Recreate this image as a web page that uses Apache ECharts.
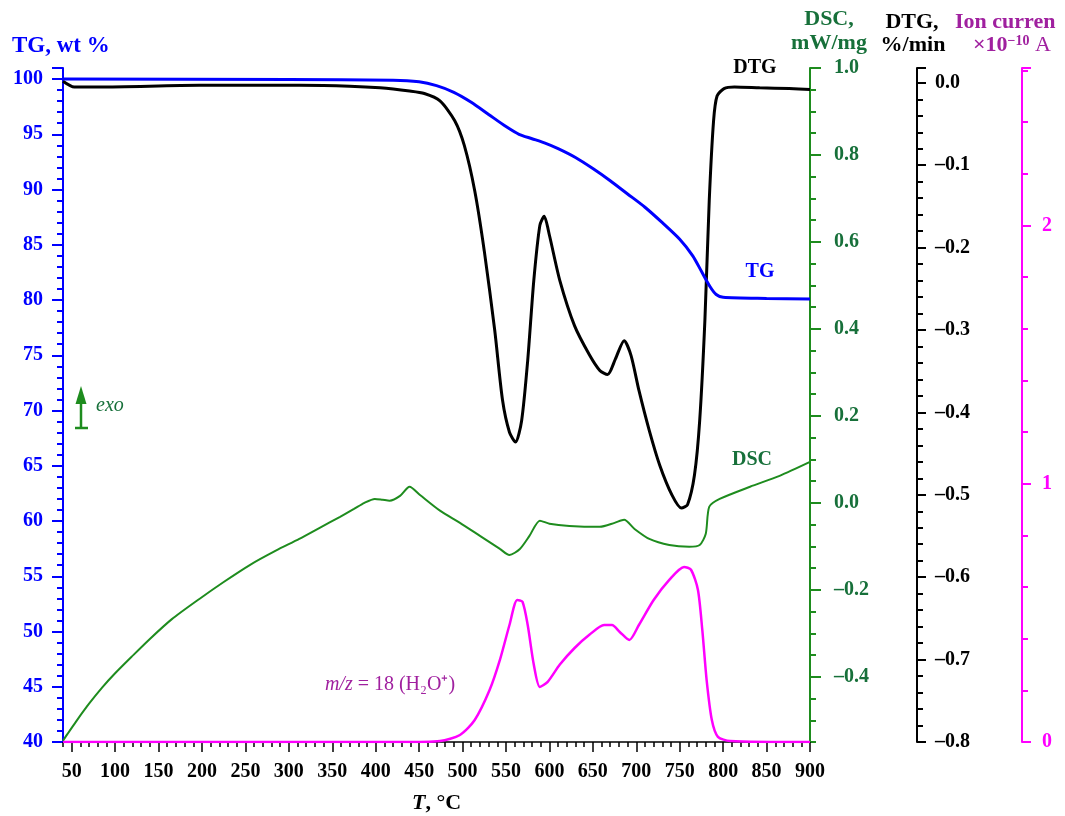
<!DOCTYPE html>
<html>
<head>
<meta charset="utf-8">
<script src="https://cdn.jsdelivr.net/npm/echarts@6/dist/echarts.min.js"></script>
<style>
html,body{margin:0;padding:0;background:#fff;}
#chart{width:1065px;height:816px;}
</style>
</head>
<body>
<div id="chart"></div>
<script>
// ---------- data ----------
const xTickLabels = [50,100,150,200,250,300,350,400,450,500,550,600,650,700,750,800,850,900];
const dscMajorTicks = [-0.4,-0.2,0.0,0.2,0.4,0.6,0.8,1.0];

const T_TG = [40,300,420,450,470,490,510,530,550,565,580,595,610,630,650,670,690,710,730,750,765,775,785,792,800,850,900];
const TG   = [100.0,99.95,99.9,99.75,99.4,98.8,97.9,96.8,95.7,95.0,94.6,94.2,93.7,92.9,91.9,90.8,89.6,88.4,87.0,85.5,84.0,82.6,81.2,80.5,80.25,80.15,80.1];

const T_DTG = [40,53,82,197,312,370,405,439,456,474,491,502,514,525,537,546,554,561,568,575,582,589,594,600,612,629,646,658,667,676,686,694,703,715,727,741,752,759,767,773,779,784,789,793,801,813,842,876,900];
const DTG   = [0.002,-0.005,-0.005,-0.003,-0.003,-0.004,-0.006,-0.010,-0.013,-0.022,-0.046,-0.076,-0.131,-0.204,-0.300,-0.385,-0.424,-0.436,-0.410,-0.337,-0.240,-0.173,-0.162,-0.185,-0.240,-0.295,-0.330,-0.349,-0.354,-0.335,-0.313,-0.331,-0.373,-0.422,-0.464,-0.500,-0.516,-0.512,-0.476,-0.410,-0.288,-0.143,-0.046,-0.016,-0.007,-0.005,-0.006,-0.007,-0.008];

const T_DSC = [40,45,55,70,85,100,120,140,165,197,225,255,285,312,335,359,375,387,399,408,416,428,439,451,474,497,520,543,554,566,577,589,600,623,658,675,686,698,715,738,761,773,780,784,796,831,865,900];
const DSC   = [-0.547,-0.532,-0.503,-0.462,-0.425,-0.392,-0.352,-0.313,-0.268,-0.221,-0.182,-0.143,-0.110,-0.083,-0.058,-0.032,-0.014,0.000,0.009,0.007,0.005,0.016,0.037,0.018,-0.018,-0.046,-0.076,-0.106,-0.120,-0.106,-0.076,-0.041,-0.048,-0.053,-0.055,-0.046,-0.039,-0.060,-0.083,-0.097,-0.101,-0.097,-0.071,-0.009,0.009,0.037,0.062,0.094];

const T_ION = [40,428,474,497,514,531,543,554,563,569,575,582,589,598,612,629,646,663,672,681,692,703,720,738,755,763,771,776,781,787,794,808,900];
const ION   = [0,0,0.004,0.027,0.085,0.200,0.318,0.453,0.550,0.543,0.453,0.300,0.213,0.233,0.300,0.364,0.415,0.453,0.453,0.426,0.395,0.453,0.550,0.628,0.678,0.667,0.589,0.434,0.240,0.085,0.020,0.004,0];

// ---------- styling ----------
const FONT = '"Liberation Serif", "Times New Roman", serif';
const BLUE = '#0000ff', GREEN = '#1e8c1e', GREEN_TXT = '#17703a', MAG = '#ff00ff', PURPLE = '#a0209f';
const dash = v => (v < 0 ? '\u2013' : '') + Math.abs(v).toFixed(1);
const pairs = (xs, ys) => xs.map((x, i) => [x, ys[i]]);

const chart = echarts.init(document.getElementById('chart'), null, {renderer: 'canvas'});

const lblStyle = (color) => ({color: color, fontFamily: FONT, fontWeight: 'bold', fontSize: 20});

const option = {
  animation: false,
  backgroundColor: '#fff',
  grid: {left: 63, right: 255, top: 68, bottom: 74, containLabel: false, outerBoundsMode: 'none'},
  xAxis: [
    {
      type: 'value', min: 40, max: 900, position: 'bottom',
      axisLine: {show: true, onZero: false, lineStyle: {color: '#000', width: 1.5}},
      axisTick: {show: true, customValues: xTickLabels, length: 10, lineStyle: {color: '#000', width: 1.5}},
      axisLabel: Object.assign({customValues: xTickLabels, margin: 20}, lblStyle('#000')),
      splitLine: {show: false},
      name: '{i|T}{n|, °C}', nameLocation: 'middle', nameGap: 50,
      nameTextStyle: {rich: {
        i: {fontFamily: FONT, fontWeight: 'bold', fontStyle: 'italic', fontSize: 22, color: '#000'},
        n: {fontFamily: FONT, fontWeight: 'bold', fontSize: 22, color: '#000'}
      }}
    },
    {
      type: 'value', min: 40, max: 900, interval: 10, position: 'bottom',
      axisLine: {show: false, onZero: false},
      axisTick: {show: true, length: 5, lineStyle: {color: '#000', width: 1.5}},
      axisLabel: {show: false}, splitLine: {show: false}
    }
  ],
  yAxis: [
    { // 0 TG
      type: 'value', min: 40, max: 101, interval: 5, position: 'left',
      axisLine: {show: true, onZero: false, lineStyle: {color: BLUE, width: 2}},
      axisTick: {show: true, length: 11, lineStyle: {color: BLUE, width: 2}},
      minorTick: {show: true, splitNumber: 5, length: 6, lineStyle: {color: BLUE, width: 2}},
      axisLabel: Object.assign({margin: 20, formatter: v => (v % 5 === 0 ? String(v) : '')}, lblStyle(BLUE)),
      splitLine: {show: false}, minorSplitLine: {show: false}
    },
    { // 1 DSC major
      type: 'value', min: -0.55, max: 1.0, position: 'right', offset: 0,
      axisLine: {show: true, onZero: false, lineStyle: {color: GREEN, width: 2}},
      axisTick: {show: true, customValues: dscMajorTicks, length: 11, lineStyle: {color: GREEN, width: 2}},
      axisLabel: Object.assign({customValues: dscMajorTicks, margin: 24, formatter: dash}, lblStyle(GREEN_TXT)),
      splitLine: {show: false}
    },
    { // 2 DSC minor
      type: 'value', min: -0.55, max: 1.0, interval: 0.05, position: 'right', offset: 0,
      axisLine: {show: false, onZero: false},
      axisTick: {show: true, length: 6, lineStyle: {color: GREEN, width: 2}},
      axisLabel: {show: false}, splitLine: {show: false}
    },
    { // 3 DTG
      type: 'value', min: -0.8, max: 0.018, interval: 0.1, position: 'right', offset: 107,
      axisLine: {show: true, onZero: false, lineStyle: {color: '#000', width: 2}},
      axisTick: {show: true, length: 9, lineStyle: {color: '#000', width: 2}},
      minorTick: {show: true, splitNumber: 5, length: 6, lineStyle: {color: '#000', width: 2}},
      axisLabel: Object.assign({margin: 18, formatter: v => (v > 0.001 ? '' : dash(v))}, lblStyle('#000')),
      splitLine: {show: false}, minorSplitLine: {show: false}
    },
    { // 4 Ion current
      type: 'value', min: 0, max: 2.61, interval: 1, position: 'right', offset: 212,
      axisLine: {show: true, onZero: false, lineStyle: {color: MAG, width: 2}},
      axisTick: {show: true, length: 9, lineStyle: {color: MAG, width: 2}},
      minorTick: {show: true, splitNumber: 5, length: 6, lineStyle: {color: MAG, width: 2}},
      axisLabel: Object.assign({margin: 20, formatter: v => (Math.abs(v - Math.round(v)) < 1e-6 ? String(Math.round(v)) : '')}, lblStyle(MAG)),
      splitLine: {show: false}, minorSplitLine: {show: false}
    }
  ],
  series: [
    {name: 'Ion', type: 'line', xAxisIndex: 0, yAxisIndex: 4, data: pairs(T_ION, ION), showSymbol: false, smooth: 0.25,
     lineStyle: {color: MAG, width: 2.5}, z: 2},
    {name: 'DSC', type: 'line', xAxisIndex: 0, yAxisIndex: 1, data: pairs(T_DSC, DSC), showSymbol: false, smooth: 0.25,
     lineStyle: {color: GREEN, width: 2}, z: 3},
    {name: 'DTG', type: 'line', xAxisIndex: 0, yAxisIndex: 3, data: pairs(T_DTG, DTG), showSymbol: false, smooth: 0.25,
     lineStyle: {color: '#000', width: 3}, z: 4},
    {name: 'TG', type: 'line', xAxisIndex: 0, yAxisIndex: 0, data: pairs(T_TG, TG), showSymbol: false, smooth: 0.25,
     lineStyle: {color: BLUE, width: 3}, z: 5}
  ],
  graphic: [
    {type: 'text', x: 12, y: 46, style: {text: 'TG, wt %', fill: BLUE, font: 'bold 23px ' + FONT, verticalAlign: 'middle', align: 'left'}},
    {type: 'text', x: 829, y: 19, style: {text: 'DSC,', fill: GREEN_TXT, font: 'bold 22px ' + FONT, align: 'center', verticalAlign: 'middle'}},
    {type: 'text', x: 829, y: 43, style: {text: 'mW/mg', fill: GREEN_TXT, font: 'bold 22px ' + FONT, align: 'center', verticalAlign: 'middle'}},
    {type: 'text', x: 912, y: 22, style: {text: 'DTG,', fill: '#000', font: 'bold 22px ' + FONT, align: 'center', verticalAlign: 'middle'}},
    {type: 'text', x: 913, y: 45, style: {text: '%/min', fill: '#000', font: 'bold 22px ' + FONT, align: 'center', verticalAlign: 'middle'}},
    {type: 'text', x: 955, y: 22, style: {text: 'Ion curren', fill: PURPLE, font: 'bold 22px ' + FONT, align: 'left', verticalAlign: 'middle'}},
    {type: 'text', x: 973, y: 45, style: {
      text: '{b|×10}{s|−10}{r| A}', align: 'left', verticalAlign: 'middle',
      rich: {
        b: {fontFamily: FONT, fontWeight: 'bold', fontSize: 22, fill: PURPLE, color: PURPLE, verticalAlign: 'bottom'},
        s: {fontFamily: FONT, fontWeight: 'bold', fontSize: 14, fill: PURPLE, color: PURPLE, verticalAlign: 'top'},
        r: {fontFamily: FONT, fontSize: 22, fill: PURPLE, color: PURPLE, verticalAlign: 'bottom'}
      }
    }},
    {type: 'text', x: 755, y: 68, style: {text: 'DTG', fill: '#000', font: 'bold 20px ' + FONT, align: 'center', verticalAlign: 'middle'}},
    {type: 'text', x: 760, y: 272, style: {text: 'TG', fill: BLUE, font: 'bold 20px ' + FONT, align: 'center', verticalAlign: 'middle'}},
    {type: 'text', x: 752, y: 460, style: {text: 'DSC', fill: GREEN_TXT, font: 'bold 20px ' + FONT, align: 'center', verticalAlign: 'middle'}},
    {type: 'text', x: 390, y: 685, style: {
      text: '{i|m/z}{n| = 18 (H₂O⁺)}', align: 'center', verticalAlign: 'middle',
      rich: {
        i: {fontStyle: 'italic', fontFamily: FONT, fontSize: 20, fill: PURPLE, color: PURPLE},
        n: {fontFamily: FONT, fontSize: 20, fill: PURPLE, color: PURPLE}
      }
    }},
    // exo arrow
    {type: 'line', shape: {x1: 81, y1: 400, x2: 81, y2: 428}, style: {stroke: GREEN, lineWidth: 2.5}},
    {type: 'line', shape: {x1: 75, y1: 428, x2: 88, y2: 428}, style: {stroke: GREEN, lineWidth: 2.5}},
    {type: 'polygon', shape: {points: [[81, 386], [75.5, 404], [86.5, 404]]}, style: {fill: GREEN}},
    {type: 'text', x: 96, y: 406, style: {text: 'exo', fill: GREEN_TXT, font: 'italic 20px ' + FONT, align: 'left', verticalAlign: 'middle'}}
  ]
};
chart.setOption(option);
</script>
</body>
</html>
